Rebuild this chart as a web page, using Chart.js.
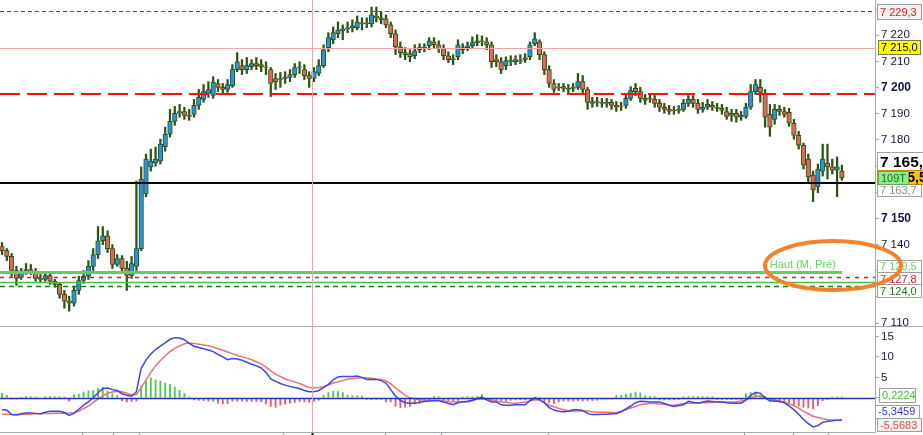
<!DOCTYPE html>
<html>
<head>
<meta charset="utf-8">
<script src="https://cdn.jsdelivr.net/npm/chart.js@4.4.1/dist/chart.umd.min.js"></script>
<style>
  html, body { margin: 0; padding: 0; background: #fff; }
  #wrap { position: relative; width: 923px; height: 435px; overflow: hidden; }
  #priceBox { position: absolute; left: 0; top: 0; }
  #macdBox { position: absolute; left: 0; top: 326px; }
</style>
</head>
<body>
<div id="wrap">
  <div id="priceBox"><canvas id="priceChart" width="923" height="326"></canvas></div>
  <div id="macdBox"><canvas id="macdChart" width="923" height="109"></canvas></div>
</div>
<script>
// candles (index = bar number)
var opens = [
  7139.3, 7137.7, 7135.5, 7130.1, 7127.5, 7129.4, 7130.5, 7129.8, 7127.1, 7126.7,
  7128.2, 7126.0, 7124.8, 7121.0, 7118.4, 7117.6, 7122.5, 7126.3, 7127.9, 7131.7,
  7136.2, 7141.5, 7143.4, 7138.5, 7132.4, 7134.7, 7130.9, 7128.2, 7131.7, 7138.5,
  7159.4, 7169.7, 7171.2, 7171.9, 7177.3, 7182.2, 7187.1, 7190.2, 7190.9, 7189.4,
  7189.8, 7193.2, 7195.5, 7197.8, 7197.0, 7201.6, 7200.1, 7199.3, 7200.8, 7206.9,
  7208.4, 7206.9, 7208.0, 7209.2, 7208.8, 7208.0, 7206.9, 7203.5, 7203.1, 7203.5,
  7203.9, 7205.0, 7207.7, 7206.9, 7204.6, 7203.5, 7205.4, 7208.4, 7215.3, 7218.3,
  7220.6, 7221.7, 7222.5, 7222.9, 7222.9, 7224.8, 7224.4, 7224.4, 7227.4, 7226.7,
  7226.3, 7224.0, 7220.6, 7215.6, 7213.4, 7213.0, 7212.2, 7214.5, 7215.3, 7216.0,
  7217.5, 7216.4, 7214.9, 7212.2, 7210.7, 7211.8, 7215.3, 7215.3, 7216.0, 7217.2,
  7217.9, 7217.5, 7216.4, 7210.7, 7209.9, 7208.4, 7210.3, 7209.9, 7210.3, 7210.7,
  7211.8, 7216.8, 7217.5, 7212.6, 7206.9, 7201.6, 7200.1, 7200.4, 7199.7, 7199.7,
  7200.1, 7202.3, 7199.3, 7194.7, 7194.4, 7194.4, 7194.0, 7194.4, 7193.2, 7192.8,
  7193.2, 7195.9, 7199.7, 7198.5, 7195.9, 7195.9, 7195.5, 7194.0, 7192.5, 7191.7,
  7191.3, 7191.3, 7191.7, 7194.0, 7195.5, 7194.0, 7191.7, 7192.5, 7193.2, 7192.5,
  7192.1, 7190.9, 7189.4, 7190.2, 7188.7, 7189.0, 7192.5, 7198.5, 7200.1, 7197.4,
  7189.8, 7187.9, 7191.7, 7190.9, 7190.6, 7186.4, 7181.8, 7178.0, 7172.7, 7166.6,
  7162.1, 7168.1, 7171.2, 7169.7, 7168.5, 7168.1
];
var highs = [
  7140.8, 7138.5, 7136.6, 7131.7, 7130.9, 7132.8, 7132.4, 7130.9, 7128.6, 7129.4,
  7129.0, 7126.7, 7125.6, 7122.5, 7120.3, 7124.1, 7127.9, 7130.1, 7133.9, 7138.5,
  7146.9, 7146.9, 7145.3, 7140.0, 7136.2, 7135.8, 7133.6, 7135.5, 7164.3, 7169.7,
  7174.6, 7176.5, 7177.3, 7180.3, 7184.9, 7191.7, 7192.8, 7193.6, 7192.5, 7191.7,
  7195.5, 7199.3, 7201.2, 7202.3, 7204.2, 7203.1, 7201.6, 7203.1, 7208.8, 7213.4,
  7210.7, 7211.5, 7210.7, 7211.5, 7210.7, 7209.9, 7207.7, 7205.4, 7205.8, 7206.1,
  7206.9, 7209.2, 7209.9, 7208.8, 7206.1, 7207.7, 7210.7, 7216.4, 7221.0, 7223.2,
  7225.1, 7224.0, 7225.1, 7225.9, 7227.4, 7226.7, 7226.7, 7230.8, 7230.8, 7228.9,
  7227.8, 7225.1, 7222.1, 7217.5, 7215.3, 7214.5, 7216.4, 7216.8, 7216.8, 7219.1,
  7219.1, 7217.9, 7216.4, 7213.7, 7212.6, 7218.3, 7216.8, 7217.5, 7219.4, 7220.2,
  7219.8, 7219.1, 7217.5, 7212.6, 7211.5, 7211.8, 7212.2, 7212.2, 7212.6, 7213.0,
  7217.5, 7221.0, 7218.3, 7213.7, 7208.4, 7203.1, 7201.6, 7201.6, 7201.2, 7201.6,
  7205.4, 7204.6, 7200.1, 7196.3, 7196.3, 7195.9, 7195.9, 7195.5, 7194.7, 7194.4,
  7197.0, 7200.4, 7201.6, 7200.1, 7197.4, 7197.4, 7197.0, 7195.5, 7194.0, 7193.2,
  7192.8, 7193.2, 7195.5, 7197.0, 7197.0, 7195.5, 7194.4, 7195.5, 7194.7, 7194.0,
  7193.6, 7192.5, 7191.7, 7191.7, 7190.9, 7194.0, 7201.2, 7203.1, 7203.1, 7199.3,
  7193.6, 7193.6, 7193.2, 7192.5, 7192.1, 7187.9, 7183.3, 7178.8, 7174.6, 7168.1,
  7170.8, 7178.4, 7178.4, 7172.7, 7173.5, 7170.4
];
var lows = [
  7136.2, 7133.9, 7127.9, 7124.4, 7126.7, 7128.6, 7128.6, 7126.0, 7125.6, 7126.0,
  7124.8, 7123.7, 7119.5, 7115.7, 7114.6, 7116.5, 7121.0, 7125.2, 7126.7, 7130.1,
  7134.7, 7140.0, 7137.0, 7130.9, 7131.7, 7129.4, 7122.5, 7127.1, 7130.1, 7137.7,
  7158.3, 7168.1, 7170.0, 7170.8, 7175.7, 7181.1, 7185.6, 7188.7, 7187.9, 7187.5,
  7188.7, 7191.7, 7194.4, 7196.3, 7195.9, 7198.5, 7197.4, 7198.2, 7200.1, 7206.1,
  7205.0, 7205.4, 7206.9, 7206.9, 7206.1, 7205.0, 7196.6, 7199.3, 7200.1, 7201.6,
  7202.3, 7203.9, 7205.4, 7203.1, 7200.1, 7202.3, 7204.6, 7207.7, 7213.7, 7216.8,
  7219.1, 7218.3, 7221.0, 7221.3, 7222.1, 7222.1, 7222.9, 7223.2, 7225.1, 7224.4,
  7222.9, 7219.1, 7212.6, 7211.5, 7210.7, 7209.9, 7211.1, 7213.4, 7213.7, 7214.5,
  7215.3, 7213.4, 7210.7, 7209.6, 7208.8, 7210.7, 7213.0, 7214.1, 7215.3, 7216.0,
  7216.0, 7214.5, 7207.7, 7208.0, 7205.4, 7206.9, 7208.4, 7208.8, 7209.2, 7209.6,
  7210.7, 7216.0, 7210.7, 7205.0, 7200.1, 7198.2, 7198.9, 7198.5, 7197.8, 7198.5,
  7199.3, 7197.4, 7191.7, 7192.5, 7192.8, 7192.5, 7192.5, 7191.7, 7190.9, 7191.3,
  7192.1, 7195.1, 7197.0, 7194.4, 7193.6, 7194.4, 7192.5, 7190.9, 7190.2, 7189.8,
  7189.8, 7190.2, 7190.9, 7192.8, 7192.5, 7190.2, 7190.6, 7191.7, 7191.3, 7190.9,
  7189.8, 7187.9, 7187.1, 7186.8, 7187.5, 7188.3, 7191.7, 7197.4, 7194.4, 7184.9,
  7181.4, 7186.0, 7189.4, 7188.7, 7185.2, 7180.3, 7176.5, 7168.9, 7164.0, 7156.4,
  7159.8, 7166.2, 7165.1, 7167.0, 7158.3, 7164.6
];
var closes = [
  7137.7, 7135.5, 7130.1, 7127.1, 7129.4, 7130.5, 7129.8, 7127.1, 7126.7, 7128.2,
  7126.0, 7124.8, 7121.0, 7118.4, 7117.6, 7122.5, 7126.3, 7127.9, 7131.7, 7136.2,
  7141.5, 7143.4, 7138.5, 7132.4, 7134.7, 7130.9, 7128.2, 7132.8, 7138.5, 7165.1,
  7172.7, 7171.9, 7172.7, 7178.4, 7182.2, 7187.1, 7190.2, 7190.9, 7189.4, 7189.0,
  7193.2, 7196.3, 7198.5, 7199.3, 7202.0, 7200.1, 7199.3, 7201.2, 7206.9, 7209.9,
  7206.9, 7208.4, 7209.2, 7208.4, 7208.0, 7207.7, 7201.6, 7202.3, 7203.5, 7203.9,
  7205.0, 7207.7, 7208.0, 7204.6, 7203.5, 7206.1, 7208.4, 7214.5, 7219.1, 7221.0,
  7222.1, 7222.5, 7222.9, 7223.6, 7225.1, 7224.4, 7224.8, 7227.8, 7226.7, 7225.9,
  7224.0, 7220.6, 7215.6, 7213.4, 7212.6, 7211.8, 7214.1, 7215.3, 7215.6, 7217.9,
  7216.4, 7214.9, 7212.2, 7210.7, 7211.1, 7216.4, 7214.5, 7216.0, 7217.2, 7217.9,
  7217.5, 7216.4, 7209.9, 7209.9, 7206.9, 7210.3, 7209.9, 7210.7, 7210.0, 7211.5,
  7216.4, 7218.7, 7212.6, 7206.9, 7201.6, 7199.3, 7200.0, 7199.7, 7199.3, 7200.1,
  7202.3, 7199.3, 7194.4, 7194.0, 7194.7, 7194.0, 7194.4, 7193.2, 7192.5, 7192.6,
  7195.9, 7198.9, 7198.5, 7195.9, 7195.1, 7195.8, 7194.0, 7192.5, 7191.7, 7190.9,
  7191.2, 7191.7, 7194.0, 7195.5, 7194.0, 7191.7, 7192.5, 7193.6, 7192.5, 7192.1,
  7191.3, 7189.0, 7190.2, 7188.7, 7189.4, 7192.5, 7198.5, 7201.2, 7198.2, 7188.7,
  7184.9, 7191.7, 7190.9, 7189.8, 7186.4, 7181.8, 7178.0, 7170.4, 7165.9, 7160.9,
  7168.9, 7172.7, 7169.7, 7168.5, 7169.7, 7165.5
];

// MACD panel
var macdLine = [
  -2.9, -3.0, -4.1, -4.2, -3.9, -3.7, -3.7, -3.8, -3.9, -3.5,
  -3.3, -3.3, -3.3, -3.6, -4.3, -3.8, -2.8, -1.8, -1.0, 0.0,
  1.2, 2.3, 2.4, 2.0, 1.8, 1.0, 0.6, 0.4, 1.5, 7.2,
  9.2, 10.7, 11.8, 12.6, 13.4, 14.3, 14.7, 14.6, 14.2, 13.3,
  12.6, 12.3, 12.0, 11.7, 11.3, 10.6, 10.0, 9.3, 9.6, 9.5,
  9.2, 8.7, 8.2, 7.8, 7.3, 6.2, 4.6, 4.0, 3.5, 3.1,
  2.8, 2.5, 2.2, 1.8, 1.5, 1.5, 1.8, 2.5, 3.3, 4.4,
  5.1, 5.2, 5.2, 5.2, 5.3, 5.0, 4.5, 4.5, 4.5, 4.2,
  3.6, 2.0, 0.4, -0.6, -1.2, -1.3, -1.3, -1.1, -0.9, -0.8,
  -0.7, -0.7, -1.0, -1.4, -1.7, -1.2, -0.95, -0.85, -0.6, -0.2,
  0.2, -0.5, -1.0, -1.0, -1.7, -1.8, -1.8, -1.7, -1.7, -1.7,
  -0.7, 0.0, -0.4, -1.2, -2.4, -3.0, -3.3, -3.4, -3.3, -2.9,
  -2.9, -3.1, -3.8, -4.1, -4.1, -4.0, -4.0, -3.9, -3.9, -3.4,
  -2.7, -2.0, -1.2, -0.85, -0.9, -1.0, -1.0, -1.0, -1.4, -1.8,
  -2.1, -1.9, -1.7, -0.85, -1.1, -1.3, -1.0, -0.8, -0.9, -1.0,
  -1.0, -1.2, -1.3, -1.35, -1.3, -0.6, 0.6, 1.3, 1.1, 0.0,
  -0.8, -0.8, -0.9, -1.2, -2.0, -2.9, -4.0, -5.3, -6.3, -7.1,
  -6.8, -6.0, -5.7, -5.6, -5.45, -5.35
];
var signalLine = [
  -4.0, -4.0, -4.05, -4.1, -4.05, -4.0, -3.95, -3.9, -3.9, -3.85,
  -3.85, -3.8, -3.8, -3.75, -3.7, -3.6, -3.3, -2.6, -2.0, -1.1,
  -0.3, 0.5, 1.1, 1.4, 1.6, 1.5, 1.1, 0.7, 0.8, 2.5,
  4.3, 6.2, 7.8, 9.1, 10.2, 11.3, 12.1, 12.7, 13.2, 13.4,
  13.3, 13.1, 12.9, 12.7, 12.4, 12.0, 11.6, 11.2, 10.8, 10.4,
  10.0, 9.7, 9.3, 8.8, 8.3, 7.5, 6.6, 5.8, 5.2, 4.6,
  4.2, 3.9, 3.5, 3.0, 2.5, 2.4, 2.5, 2.7, 3.1, 3.6,
  3.9, 4.2, 4.6, 4.7, 4.8, 4.9, 4.9, 4.8, 4.6, 4.5,
  4.2, 3.4, 2.4, 1.5, 0.6, 0.0, -0.3, -0.5, -0.6, -0.6,
  -0.6, -0.6, -0.8, -0.95, -1.0, -1.0, -1.0, -1.0, -0.7, -0.35,
  -0.2, -0.3, -0.5, -0.8, -1.0, -1.1, -1.25, -1.3, -1.2, -1.05,
  -0.8, -0.45, -0.6, -1.2, -1.8, -2.2, -2.6, -2.9, -3.2, -3.3,
  -3.25, -3.2, -3.25, -3.4, -3.5, -3.5, -3.55, -3.6, -3.6, -3.3,
  -2.9, -2.5, -2.1, -1.7, -1.5, -1.4, -1.4, -1.5, -1.6, -1.75,
  -1.8, -1.6, -1.4, -1.3, -1.3, -1.25, -1.2, -1.2, -1.15, -1.1,
  -1.05, -1.0, -1.0, -1.0, -0.8, -0.45, 0.0, 0.5, 0.4, 0.0,
  -0.3, -0.55, -0.8, -1.1, -1.5, -1.9, -2.5, -3.3, -3.9, -4.5,
  -4.8, -5.1, -5.3, -5.4, -5.5, -5.55
];
var histogram = [
  1.1, 0.6, -0.3, -0.3, 0.1, 0.3, 0.3, 0.2, -0.2, 0.3,
  0.3, 0.3, 0.3, 0.2, -0.8, 0.8, 0.9, 1.4, 1.7, 1.8,
  2.3, 2.6, 1.6, 1.0, 0.6, -0.7, -1.0, -0.9, -0.8, 3.0,
  4.2, 4.9, 4.4, 4.1, 3.6, 3.3, 2.6, 1.8, 1.0, 0.2,
  -0.5, -0.6, -0.7, -0.8, -0.8, -1.3, -1.5, -1.4, -0.8, -0.8,
  -0.8, -0.9, -0.9, -0.9, -1.0, -1.5, -2.1, -2.3, -1.8, -1.5,
  -1.3, -1.1, -0.9, -1.0, -1.1, -0.8, -0.6, 0.6, 1.3, 1.6,
  1.5, 1.3, 0.6, 0.5, 0.5, 0.4, -0.4, -0.4, -0.4, -0.4,
  -1.0, -1.0, -2.1, -2.4, -2.3, -2.1, -1.5, -1.4, -0.8, -0.8,
  0.3, 0.3, -0.7, -0.7, -0.7, -0.7, 0.2, 0.3, 0.3, 0.4,
  0.8, -0.6, -0.8, -0.8, -0.8, -0.8, -0.6, -0.5, -0.5, -0.5,
  -0.3, 0.1, 0.0, -1.0, -1.2, -1.4, -1.0, -0.8, -0.8, -0.8,
  -0.7, -0.8, -0.7, -0.7, -0.6, -0.3, -0.3, -0.3, 0.6, 0.6,
  0.9, 1.1, 1.4, 1.2, 0.5, 0.3, 0.3, -0.5, -0.5, -0.5,
  -0.5, -0.4, 0.3, 0.3, 0.3, 0.3, 0.3, 0.3, 0.3, -0.4,
  -0.4, -0.4, -0.4, -0.4, -0.4, 1.0, 1.3, 1.4, 0.6, 0.3,
  -0.7, -0.9, -1.0, -1.1, -1.5, -1.8, -2.0, -2.3, -2.5, -2.7,
  -1.9, -0.7, -0.4, 0.2, 0.2, 0.2
];
var macdLast = -5.3459, signalLast = -5.5683, histLast = 0.2224;

// tick labels shown on the right axes
var priceTicks = [7110, 7140, 7150, 7180, 7190, 7200, 7210, 7220];
var macdTicks = [5, 10, 15];

// horizontal levels drawn on the price panel
var levelTop = 7229.3;      // red dotted
var cursorPrice = 7215.0;   // crosshair
var levelRed = 7197.7;      // red long dashes
var levelPrev = 7163.7;     // black line
var levelHigh = 7129.5;     // Haut (M, Pré)
var levelRedLow = 7127.8;
var levelGreen = 7125.8;
var levelLow = 7124.0;

// crosshair bar and date ticks (bar numbers)
var cursorBar = 64.6;
var dateTicks = [16.7, 23.1, 28.5, 58.5, 79.8, 91.5, 113.8, 154.6, 164.8, 172.1];

var FONT = "'Liberation Sans', Arial, sans-serif";
var AXIS = '#a3abb5';
var WICK = '#2b5413';
var UP = '#2b93dc';
var DOWN = '#e0675a';
var PINK = '#f3a3a3';

function fmt(v, dec) {
  var parts = v.toFixed(dec).split('.');
  parts[0] = parts[0].replace(/\B(?=(\d{3})+(?!\d))/g, ' ');
  return parts.join(',');
}

function tag(c, left, right, cy, h, text, bg, border, color, font) {
  var top = Math.round(cy - h / 2);
  c.save();
  c.fillStyle = bg;
  c.fillRect(left, top, right - left, h);
  c.strokeStyle = border;
  c.lineWidth = 1;
  c.strokeRect(left + 0.5, top + 0.5, right - left - 1, h - 1);
  c.fillStyle = color;
  c.font = font;
  c.textBaseline = 'middle';
  c.textAlign = 'left';
  c.fillText(text, left + 3, cy + 0.5);
  c.restore();
}

var wickData = [], bodyData = [], bodyColors = [];
for (var i = 0; i < closes.length; i++) {
  wickData.push({x: i, y: [lows[i], highs[i]]});
  bodyData.push({x: i, y: [opens[i], closes[i]]});
  bodyColors.push(closes[i] >= opens[i] ? UP : DOWN);
}

var pricePlugin = {
  id: 'priceDecor',
  afterDatasetsDraw: function (chart) {
    var c = chart.ctx, a = chart.chartArea, ys = chart.scales.y, xs = chart.scales.x;
    function hline(price, color, width, dash, x1) {
      var py = Math.round(ys.getPixelForValue(price)) + (width % 2 ? 0.5 : 0);
      c.save();
      c.beginPath();
      c.setLineDash(dash);
      c.strokeStyle = color;
      c.lineWidth = width;
      c.moveTo(a.left, py);
      c.lineTo(x1 === undefined ? a.right : x1, py);
      c.stroke();
      c.restore();
    }
    hline(levelTop, '#d42020', 1, [4, 3]);
    hline(levelRed, '#ff1010', 2, [20, 7]);
    hline(levelPrev, '#000000', 2, []);
    hline(levelLow, '#1f7a1f', 1.5, [5, 4]);
    hline(levelGreen, '#47c047', 1.5, []);
    hline(levelRedLow, '#e01818', 1.5, [4, 5]);
    hline(levelHigh, '#5fcf5f', 3, [], xs.getPixelForValue(closes.length - 1));
    hline(cursorPrice, PINK, 1, []);

    // crosshair vertical
    var cx = Math.round(xs.getPixelForValue(cursorBar)) + 0.5;
    c.save();
    c.strokeStyle = PINK;
    c.lineWidth = 1;
    c.beginPath();
    c.moveTo(cx, 0);
    c.lineTo(cx, chart.height);
    c.stroke();
    c.restore();
  },
  afterDraw: function (chart) {
    var c = chart.ctx, a = chart.chartArea, ys = chart.scales.y, xs = chart.scales.x;
    var L = a.right + 2, R = a.right + 47;
    var f11 = '11px ' + FONT;
    var last = closes[closes.length - 1];
    var pLast = ys.getPixelForValue(last);

    tag(c, L, R, ys.getPixelForValue(levelTop) + 1, 16, fmt(levelTop, 1), '#f2f2f2', '#9a9a9a', '#e01b1b', f11);
    tag(c, L + 1, R - 1, ys.getPixelForValue(cursorPrice) - 1, 15, fmt(cursorPrice, 1), '#ffff00', '#7a7a50', '#000', f11);

    tag(c, L, R, ys.getPixelForValue(levelPrev) + 7.5, 14, fmt(levelPrev, 1), '#ffffff', '#a0a0a0', '#8c8c8c', f11);
    tag(c, L, R + 2, pLast - 16, 20, fmt(last, 1), '#ffffff', '#a0a0a0', '#000', 'bold 15.5px ' + FONT);
    tag(c, L, R + 2, pLast, 15, fmt(last, 1), '#fbbf16', '#c08a10', '#000', 'bold 14px ' + FONT);
    tag(c, L + 1, L + 32, pLast + 0.5, 14, '109T', '#92ea92', '#5aae5a', '#1f6f1f', f11);

    tag(c, L, R, ys.getPixelForValue(levelHigh) - 5.5, 14, fmt(levelHigh, 1), '#ffffff', '#a0a0a0', '#6cd46c', f11);
    tag(c, L, R, ys.getPixelForValue(levelRedLow) + 2.5, 14, fmt(levelRedLow, 1), '#ffffff', '#a0a0a0', '#e01b1b', f11);
    tag(c, L, R, ys.getPixelForValue(levelLow) + 4.5, 14, fmt(levelLow, 1), '#ffffff', '#a0a0a0', '#1f7a1f', f11);

    // level caption
    var hy = ys.getPixelForValue(levelHigh);
    c.save();
    c.fillStyle = '#6ad46a';
    c.font = '11px ' + FONT;
    c.textAlign = 'right';
    c.textBaseline = 'alphabetic';
    c.fillText('Haut (M, Pré)', xs.getPixelForValue(closes.length - 1) - 6, hy - 4);
    c.restore();

    // orange ellipse marking the level
    c.save();
    c.strokeStyle = '#f5822a';
    c.lineWidth = 4;
    c.beginPath();
    c.ellipse(a.right - 42, hy - 6.5, 68, 24.5, 0, 0, Math.PI * 2);
    c.stroke();
    c.restore();
  }
};

new Chart(document.getElementById('priceChart'), {
  type: 'bar',
  data: {
    datasets: [
      { data: bodyData, backgroundColor: bodyColors, borderColor: WICK, borderWidth: 1,
        borderSkipped: false, barThickness: 4.6, grouped: false, order: 1 },
      { data: wickData, backgroundColor: WICK, barThickness: 1.6, grouped: false, order: 2 }
    ]
  },
  options: {
    responsive: false,
    animation: false,
    layout: { padding: 0 },
    plugins: { legend: { display: false }, tooltip: { enabled: false } },
    scales: {
      x: { type: 'linear', min: -0.42, max: 181.9, offset: false, display: false },
      y: {
        position: 'right',
        min: 7108.9,
        max: 7233.5,
        afterFit: function (s) { s.width = 48; s.paddingTop = 0; s.paddingBottom = 0; },
        grid: { drawOnChartArea: false, tickLength: 4, color: AXIS },
        border: { color: AXIS },
        ticks: {
          stepSize: 10,
          includeBounds: false,
          padding: 2,
          color: '#15154a',
          font: function (ctx) {
            var big = ctx.tick && Math.round(ctx.tick.value) % 50 === 0;
            return { family: FONT, size: big ? 12 : 11.5, weight: big ? 'bold' : 'normal' };
          },
          callback: function (v) {
            return priceTicks.indexOf(Math.round(v)) >= 0 ? fmt(Math.round(v), 0) : '';
          }
        }
      }
    }
  },
  plugins: [pricePlugin]
});

var macdPlugin = {
  id: 'macdDecor',
  beforeDatasetsDraw: function (chart) {
    var c = chart.ctx, a = chart.chartArea;
    c.save();
    c.strokeStyle = AXIS;
    c.lineWidth = 1;
    c.beginPath();
    c.moveTo(0, 0.5);
    c.lineTo(chart.width, 0.5);
    c.moveTo(0, Math.round(a.bottom) + 0.5);
    c.lineTo(a.right, Math.round(a.bottom) + 0.5);
    c.stroke();
    c.restore();
  },
  afterDatasetsDraw: function (chart) {
    var c = chart.ctx, a = chart.chartArea, ys = chart.scales.y, xs = chart.scales.x;
    var zy = Math.round(ys.getPixelForValue(0)) + 0.5;
    c.save();
    c.strokeStyle = '#2632b8';
    c.lineWidth = 1.5;
    c.beginPath();
    c.moveTo(a.left, zy);
    c.lineTo(a.right, zy);
    c.stroke();

    var cx = Math.round(xs.getPixelForValue(cursorBar)) + 0.5;
    c.strokeStyle = PINK;
    c.lineWidth = 1;
    c.beginPath();
    c.moveTo(cx, 0);
    c.lineTo(cx, a.bottom);
    c.stroke();

    var by = Math.round(a.bottom) + 1;
    c.strokeStyle = '#8d949c';
    c.beginPath();
    dateTicks.forEach(function (t) {
      var tx = Math.round(xs.getPixelForValue(t)) + 0.5;
      c.moveTo(tx, by);
      c.lineTo(tx, chart.height);
    });
    c.stroke();
    c.strokeStyle = '#000';
    c.lineWidth = 2;
    c.beginPath();
    c.moveTo(cx, by);
    c.lineTo(cx, chart.height);
    c.stroke();
    c.restore();
  },
  afterDraw: function (chart) {
    var c = chart.ctx, a = chart.chartArea, ys = chart.scales.y;
    var L = a.right + 2, R = a.right + 47;
    var f11 = '11px ' + FONT;
    tag(c, L + 2, R - 6, ys.getPixelForValue(histLast) - 1, 15, fmt(histLast, 4), '#ffffff', '#a0a0a0', '#3fc13f', f11);
    tag(c, L - 2, R - 2, ys.getPixelForValue(macdLast) - 8, 14, fmt(macdLast, 4), '#ffffff', '#a0a0a0', '#2c3ad0', f11);
    tag(c, L, R, ys.getPixelForValue(signalLast) + 4.5, 14, fmt(signalLast, 4), '#f6f0f0', '#a0a0a0', '#e05050', f11);
  }
};

var histData = [], macdData = [], signalData = [], histColors = [];
for (var j = 0; j < histogram.length; j++) {
  histData.push({x: j, y: histogram[j]});
  macdData.push({x: j, y: macdLine[j]});
  signalData.push({x: j, y: signalLine[j]});
  histColors.push(histogram[j] >= 0 ? '#4cc94c' : '#ee5a5a');
}

new Chart(document.getElementById('macdChart'), {
  type: 'bar',
  data: {
    datasets: [
      { type: 'line', data: macdData, borderColor: '#3a48e0', borderWidth: 1.5, pointRadius: 0, order: 1 },
      { type: 'line', data: signalData, borderColor: '#e87272', borderWidth: 1.5, pointRadius: 0, order: 2 },
      { data: histData, backgroundColor: histColors, barThickness: 1.2, grouped: false, order: 3 }
    ]
  },
  options: {
    responsive: false,
    animation: false,
    layout: { padding: { top: 1, bottom: 3, left: 0, right: 0 } },
    plugins: { legend: { display: false }, tooltip: { enabled: false } },
    scales: {
      x: { type: 'linear', min: -0.42, max: 181.9, offset: false, display: false },
      y: {
        position: 'right',
        min: -8.35,
        max: 17.3,
        afterFit: function (s) { s.width = 48; s.paddingTop = 0; s.paddingBottom = 0; },
        grid: { drawOnChartArea: false, tickLength: 4, color: AXIS },
        border: { color: AXIS },
        ticks: {
          stepSize: 5,
          includeBounds: false,
          padding: 2,
          color: '#15154a',
          font: { family: FONT, size: 11.5 },
          callback: function (v) { return macdTicks.indexOf(v) >= 0 ? String(v) : ''; }
        }
      }
    }
  },
  plugins: [macdPlugin]
});
</script>
</body>
</html>
